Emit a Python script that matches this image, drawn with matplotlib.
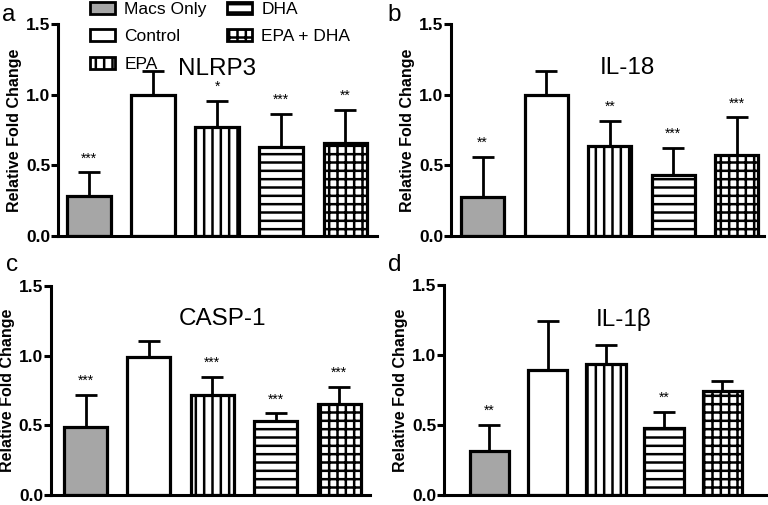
import matplotlib
matplotlib.use("Agg")
import matplotlib.pyplot as plt
import matplotlib.patches as mpatches

plt.rcParams['font.family'] = ['Liberation Sans', 'DejaVu Sans']
plt.rcParams['hatch.linewidth'] = 1.8
plt.rcParams['hatch.color'] = 'k'

groups = ['Macs Only', 'Control', 'EPA', 'DHA', 'EPA + DHA']
fills = ['#a6a6a6', 'white', 'white', 'white', 'white']
hatches = [None, None, '||', '--', '++']

# mean and SEM per gene
nlrp3_mean = [0.28, 1.00, 0.77, 0.63, 0.655]
nlrp3_sem = [0.17, 0.17, 0.185, 0.235, 0.235]
nlrp3_sig = ['***', '', '*', '***', '**']

il18_mean = [0.275, 1.00, 0.635, 0.43, 0.57]
il18_sem = [0.285, 0.165, 0.18, 0.195, 0.27]
il18_sig = ['**', '', '**', '***', '***']

casp1_mean = [0.49, 0.99, 0.72, 0.53, 0.65]
casp1_sem = [0.225, 0.115, 0.125, 0.055, 0.125]
casp1_sig = ['***', '', '***', '***', '***']

il1b_mean = [0.315, 0.89, 0.935, 0.48, 0.74]
il1b_sem = [0.185, 0.355, 0.135, 0.115, 0.075]
il1b_sig = ['**', '', '', '**', '']

fig = plt.figure(figsize=(7.68, 5.05), dpi=100)

# (axes rect, xlim, title, title pos, letter, letter pos)
panels = [
    ([0.0755, 0.533, 0.416, 0.419], (-0.48, 4.5), 'NLRP3', (2.0, 1.18), 'a', (0.003, 0.97),
     nlrp3_mean, nlrp3_sem, nlrp3_sig),
    ([0.587, 0.533, 0.408, 0.419], (-0.5, 4.43), 'IL-18', (2.28, 1.19), 'b', (0.505, 0.97),
     il18_mean, il18_sem, il18_sig),
    ([0.066, 0.02, 0.416, 0.414], (-0.55, 4.49), 'CASP-1', (2.16, 1.26), 'c', (0.008, 0.475),
     casp1_mean, casp1_sem, casp1_sig),
    ([0.578, 0.02, 0.421, 0.416], (-0.78, 4.77), 'IL-1\u03b2', (2.3, 1.25), 'd', (0.505, 0.475),
     il1b_mean, il1b_sem, il1b_sig),
]

x = list(range(len(groups)))
for rect, xl, title, tpos, letter, lpos, mean, sem, sig in panels:
    ax = fig.add_axes(rect)
    ax.errorbar(x, mean, yerr=[[0] * len(sem), sem], fmt='none', ecolor='k',
                elinewidth=2, capsize=8, capthick=2, zorder=1)
    for i in x:
        ax.bar(i, mean[i], width=0.68, color=fills[i], edgecolor='k',
               linewidth=2.3, hatch=hatches[i], zorder=2, label=groups[i])
        if sig[i]:
            ax.text(i, mean[i] + sem[i] + 0.05, sig[i], ha='center', va='bottom',
                    fontsize=10)
    ax.set_xlim(*xl)
    ax.set_ylim(0, 1.5)
    ax.set_yticks([0, 0.5, 1.0, 1.5])
    ax.set_yticklabels(['0.0', '0.5', '1.0', '1.5'], fontweight='bold', fontsize=12.5)
    ax.set_xticks([])
    ax.spines['top'].set_visible(False)
    ax.spines['right'].set_visible(False)
    ax.spines['left'].set_linewidth(2.2)
    ax.spines['bottom'].set_linewidth(2.2)
    ax.tick_params(axis='y', width=2.2, length=5, pad=0.5)
    ax.set_ylabel('Relative Fold Change', fontweight='bold', fontsize=11.5, labelpad=3)
    ax.text(tpos[0], tpos[1], title, ha='center', va='center', fontsize=17.5)
    fig.text(lpos[0], lpos[1], letter, ha='left', va='center', fontsize=17.5)
    if letter == 'a':
        handles = [mpatches.Patch(facecolor=fills[i], edgecolor='k', linewidth=2,
                                  hatch=hatches[i], label=groups[i]) for i in x]
        ax.legend(handles=handles, ncol=2, loc='upper left', bbox_to_anchor=(0.10, 1.105),
                  frameon=False, fontsize=12.5, handlelength=1.44, handleheight=0.69,
                  columnspacing=1.15, labelspacing=0.7, handletextpad=0.55, borderpad=0,
                  borderaxespad=0)

fig.savefig('out.png', dpi=100)
